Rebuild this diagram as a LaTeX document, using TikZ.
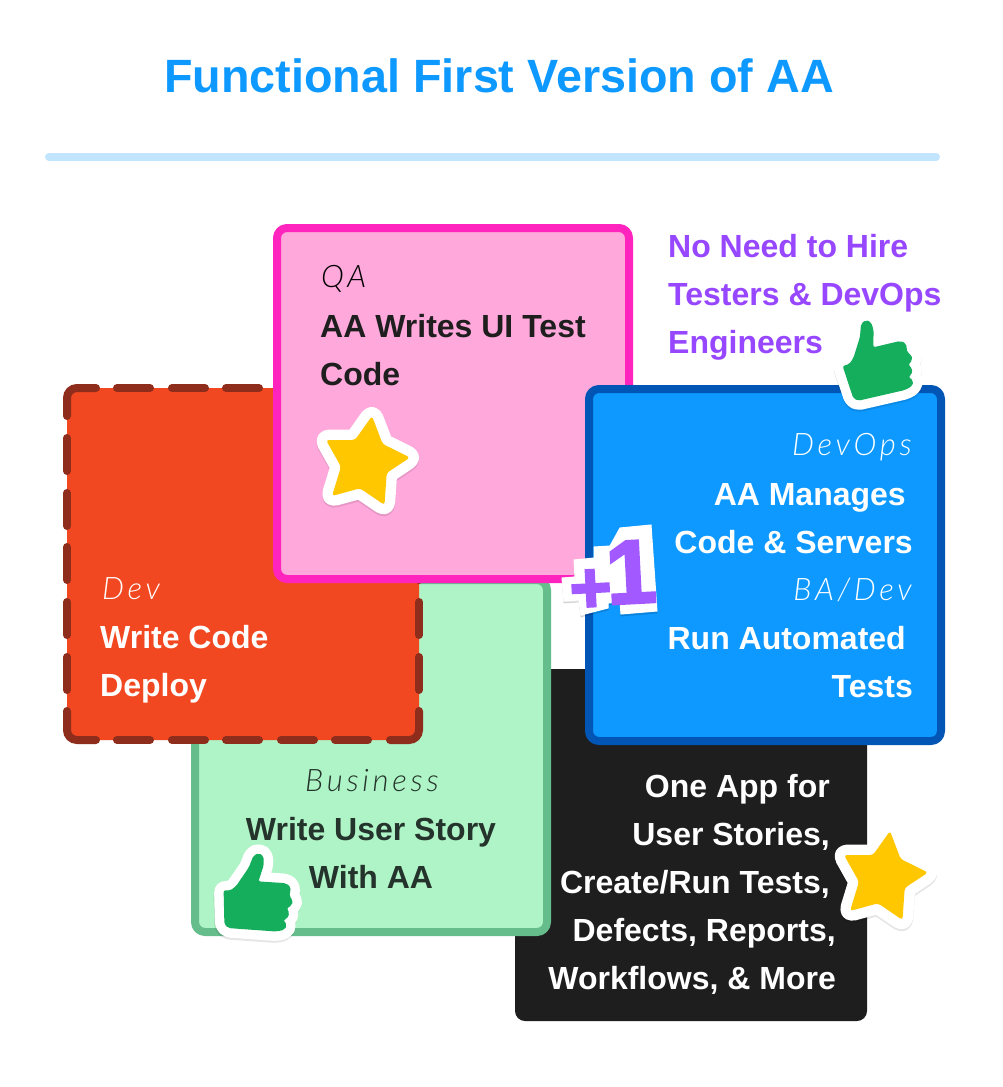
\documentclass[tikz,border=0pt]{standalone}
\usepackage{fontspec}
\setmainfont{Liberation Sans}
\newfontfamily\handfont[ItalicFont={Lato Light Italic},LetterSpace=12]{Lato Light}
\newfontfamily\plusfont[BoldFeatures={FakeBold=3}]{Liberation Sans}
\definecolor{titleblue}{HTML}{0D99FF}
\definecolor{rulelight}{HTML}{C2E5FF}
\definecolor{pinkfill}{HTML}{FFA8DB}
\definecolor{pinkline}{HTML}{FF24BD}
\definecolor{bluefill}{HTML}{0D99FF}
\definecolor{blueline}{HTML}{0055B5}
\definecolor{redfill}{HTML}{F24822}
\definecolor{redline}{HTML}{8F2D1C}
\definecolor{greenfill}{HTML}{AFF4C6}
\definecolor{greenline}{HTML}{66BD8C}
\definecolor{darkbox}{HTML}{1E1E1E}
\definecolor{purpletext}{HTML}{9747FF}
\definecolor{plusone}{HTML}{A259FF}
\definecolor{gold}{HTML}{FFC700}
\definecolor{thumbgreen}{HTML}{14AE5C}
\definecolor{greentext}{HTML}{24332B}
\tikzset{
  card/.style={rounded corners=10pt,line width=8pt,line join=round},
  body/.style={inner sep=0pt,font=\fontsize{32}{32}\selectfont\bfseries,anchor=base west},
  bodyr/.style={body,anchor=base east},
  bodyc/.style={body,anchor=base},
  hand/.style={inner sep=0pt,font=\fontsize{31}{31}\selectfont\handfont\itshape},
  reddash/.style={draw=redline,line width=8pt,line cap=round},
}
\newcommand{\starshape}{(5,-45) -- (15.7,-17) -- (43,-3.5) -- (19.7,12) -- (17.5,44) -- (-7,27.3) -- (-35,35) -- (-26,5.7) -- (-41,-21) -- (-12,-21) -- cycle}
\newcommand{\thumbshape}{(-35.7,6) -- (-29.3,4.3) -- (-25,-1.7) -- (-18.3,-23.3) -- (-17.3,-36) -- (-12.7,-40) -- (-7.3,-38) -- (-4.7,-30) -- (-5,-12.7) -- (21.7,-19) -- (27.7,-16.7) -- (29,-7.3) -- (33.3,-5) -- (34,0) -- (30,5) -- (34,8.3) -- (33.3,15) -- (30,16.7) -- (35,20.7) -- (34,26) -- (26.7,30) -- (-20,40.7) -- (-25,38.3) -- cycle}
\newcommand{\stardraw}[2]{%
  \begin{scope}[shift={(#1,#2)},rounded corners=3pt]
    \draw[black,fill=black,opacity=.10,shift={(0,2)},line width=21pt,line join=round] \starshape;
    \draw[white,fill=white,line width=21pt,line join=round] \starshape;
    \fill[gold] \starshape;
  \end{scope}}
\newcommand{\thumbdraw}[3]{%
  \begin{scope}[shift={(#1,#2)},rotate=#3]
    \draw[black,fill=black,opacity=.10,shift={(0,2)},line width=19pt,line join=round,rounded corners=2pt] \thumbshape;
    \draw[white,fill=white,line width=19pt,line join=round,rounded corners=2pt] \thumbshape;
    \fill[thumbgreen,rounded corners=2pt] \thumbshape;
  \end{scope}}
\newcommand{\plusoutline}{(562,578) -- (575,577) -- (574,560) -- (594,558) -- (594,547) -- (610,546) -- (620,528) -- (651,525) -- (657,611) -- (621,614) -- (620,602) -- (608,603) -- (608,608) -- (581,615) -- (579,600) -- (564,601) -- cycle}
\begin{document}
\begin{tikzpicture}[x=1pt,y=-1pt]
\useasboundingbox (0,0) rectangle (1003,1087);
\fill[white] (0,0) rectangle (1003,1087);
\node[inner sep=0pt,text=titleblue,font=\fontsize{46.7}{46.7}\selectfont\bfseries] (title) at (499,76) {Functional First Version of AA};
\draw[rulelight,line width=8pt,line cap=round] (49,157) -- (936,157);
% black
\fill[darkbox,rounded corners=10pt] (515,669) rectangle (867,1021);
% green
\draw[card,draw=greenline,fill=greenfill] (195,580) rectangle (547,932);
% red
\fill[redfill,rounded corners=10pt] (67,388) rectangle (419,740);
\foreach \a in {113,168,222,277,331,386}{
  \draw[reddash] ({\a+4},388) -- ({\a+37},388);
}
\foreach \a in {113,168,222,277,331}{
  \draw[reddash] ({\a+4},740) -- ({\a+37},740);
}
\foreach \a in {434,489,543,598,653}{
  \draw[reddash] (67,{\a+4}) -- (67,{\a+37});
  \draw[reddash] (419,{\a+4}) -- (419,{\a+37});
}
\draw[reddash,rounded corners=10pt] (96,388) -- (67,388) -- (67,416);
\draw[reddash,rounded corners=10pt] (67,711) -- (67,740) -- (96,740);
\draw[reddash,rounded corners=10pt] (390,740) -- (419,740) -- (419,711);
\draw[reddash,rounded corners=10pt] (390,388) -- (419,388) -- (419,416);
% pink
\draw[card,draw=pinkline,fill=pinkfill] (277,228) rectangle (629,579);
% blue
\draw[card,draw=blueline,fill=bluefill] (589,389) rectangle (941,741);
% texts
\node[hand,anchor=west,text=black] (qaLabel) at (321,279) {QA};
\node[body,text=darkbox] (qa1) at (320,337) {AA Writes UI Test};
\node[body,text=darkbox] (qa2) at (320,385) {Code};
\node[body,text=purpletext] (no1) at (668,257) {No Need to Hire};
\node[body,text=purpletext] (no2) at (668,305) {Testers \& DevOps};
\node[body,text=purpletext] (no3) at (668,353) {Engineers};
\node[hand,anchor=east,text=white] (doLabel) at (912,447) {DevOps};
\node[bodyr,text=white] (do1) at (906,505) {AA Manages};
\node[bodyr,text=white] (do2) at (913,553) {Code \& Servers};
\node[hand,anchor=east,text=white] (baLabel) at (912,590) {BA/Dev};
\node[bodyr,text=white] (do3) at (906,649) {Run Automated};
\node[bodyr,text=white] (do4) at (913,697) {Tests};
\node[hand,anchor=west,text=white] (devLabel) at (102,589) {Dev};
\node[body,text=white] (dev1) at (100,648) {Write Code};
\node[body,text=white] (dev2) at (100,696) {Deploy};
\node[hand,text=greentext] (busLabel) at (372,781) {Business};
\node[bodyc,text=greentext] (bus1) at (371,840) {Write User Story};
\node[bodyc,text=greentext] (bus2) at (371,888) {With AA};
\node[bodyr,text=white] (app1) at (830,797) {One App for};
\node[bodyr,text=white] (app2) at (830,845) {User Stories,};
\node[bodyr,text=white] (app3) at (830,893) {Create/Run Tests,};
\node[bodyr,text=white] (app4) at (836,941) {Defects, Reports,};
\node[bodyr,text=white] (app5) at (836,989) {Workflows, \& More};
% stickers
\stardraw{367}{461}
\stardraw{885}{876}
\thumbdraw{878.3}{360}{0}
\thumbdraw{259.5}{895}{-17}
% +1
\draw[black,fill=black,opacity=.10,line width=1pt,shift={(0,2)}] \plusoutline;
\draw[white,fill=white,line width=1pt] \plusoutline;
\node[inner sep=0pt,text=plusone,rotate=3,anchor=base] (plus) at (614,604) {\plusfont\bfseries\fontsize{72}{72}\selectfont\raisebox{-7pt}{+}\kern-5pt\fontsize{90}{90}\selectfont 1};
\end{tikzpicture}
\end{document}
